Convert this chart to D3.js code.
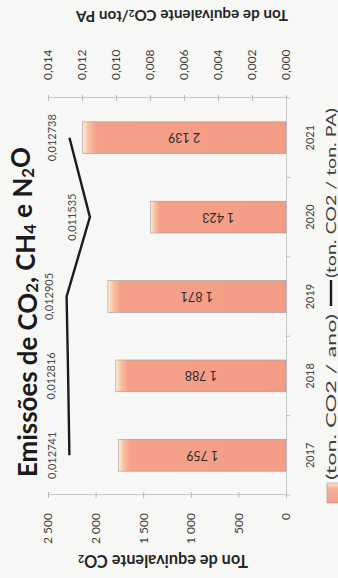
<html>
<head>
<meta charset="utf-8">
<script src="https://d3js.org/d3.v7.min.js"></script>
<style>
body {margin: 0; background: #fff;}
text {font-family: Lato, "Open Sans", sans-serif;}
</style>
</head>
<body>
<svg id="chart" width="338" height="578"></svg>
<script>
// data
var years = ["2017", "2018", "2019", "2020", "2021"];
var emissions = [1759, 1788, 1871, 1423, 2139];          // ton CO2 / ano
var intensity = [0.012741, 0.012816, 0.012905, 0.011535, 0.012738]; // ton CO2 / ton PA
var leftTicks = [0, 500, 1000, 1500, 2000, 2500];
var rightTicks = [0, 0.002, 0.004, 0.006, 0.008, 0.010, 0.012, 0.014];
var legendLabels = ["(ton. CO2 / ano)", "(ton. CO2 / ton. PA)"];

var pt = d3.formatLocale({decimal: ",", thousands: " ", grouping: [3], currency: ["", ""]});
var fmtInt = pt.format(",d");
var fmtAxis2 = pt.format(".3f");
var fmtLabel2 = pt.format(".6f");

// the page is photographed turned a quarter turn, so draw upright then turn it
var svg = d3.select("#chart");
svg.append("rect").attr("width", 338).attr("height", 578).attr("fill", "#f7f7f5");
var g = svg.append("g").attr("transform", "translate(0,578) rotate(-90)");

var plotL = 83, plotR = 480, plotT = 48, plotB = 286;

var x = d3.scaleBand().domain(years).range([plotL, plotR]).paddingInner(0.6).paddingOuter(0.3);
var y1 = d3.scaleLinear().domain([0, 2500]).range([plotB, plotT]);
var y2 = d3.scaleLinear().domain([0, 0.014]).range([plotB, plotT]);

var defs = svg.append("defs");
var grad = defs.append("linearGradient").attr("id", "barfill")
    .attr("x1", 0).attr("y1", 0).attr("x2", 0).attr("y2", 1);
grad.append("stop").attr("offset", "0%").attr("stop-color", "#fdf1d6");
grad.append("stop").attr("offset", "3%").attr("stop-color", "#f9c2a4");
grad.append("stop").attr("offset", "7%").attr("stop-color", "#f5a18a");
grad.append("stop").attr("offset", "100%").attr("stop-color", "#f39c85");
var gradKey = defs.append("linearGradient").attr("id", "keyfill")
    .attr("x1", 0).attr("y1", 0).attr("x2", 1).attr("y2", 0);
gradKey.append("stop").attr("offset", "0%").attr("stop-color", "#f39c85");
gradKey.append("stop").attr("offset", "75%").attr("stop-color", "#f7b59c");
gradKey.append("stop").attr("offset", "100%").attr("stop-color", "#fde6c6");

// grow a text until it spans the length seen on the scan
function fit(t, len) {
    var base = parseFloat(t.style("font-size"));
    var w = t.node().getComputedTextLength();
    t.style("font-size", (base * len / w) + "px");
}

//axes
var axL = g.append("g").attr("transform", "translate(" + plotL + ",0)")
    .call(d3.axisLeft(y1).tickValues(leftTicks).tickFormat(fmtInt).tickSize(3).tickPadding(15));
var axR = g.append("g").attr("transform", "translate(" + plotR + ",0)")
    .call(d3.axisRight(y2).tickValues(rightTicks).tickFormat(fmtAxis2).tickSize(3).tickPadding(15));
[axL, axR].forEach(function(a) {
    a.select(".domain").attr("stroke", "#c8c8cc");
    a.selectAll(".tick line").attr("x1", -3).attr("x2", 3).attr("stroke", "#b8b8bc");
    a.selectAll(".tick text").attr("fill", "#404040").style("font-size", "12px");
});

var axB = g.append("g").attr("transform", "translate(0," + plotB + ")")
    .call(d3.axisBottom(x).tickSize(0).tickPadding(20));
axB.select(".domain").attr("stroke", "#c8c8cc");
axB.selectAll(".tick text").attr("fill", "#404040").style("font-size", "11px");
// category ticks sit between the bars
var step = x.step();
var firstEdge = x(years[0]) - x.paddingInner() * step / 2;
axB.selectAll(".bound").data(years.concat(["end"])).enter().append("line")
    .attr("x1", function(d, i) { return firstEdge + i * step; })
    .attr("x2", function(d, i) { return firstEdge + i * step; })
    .attr("y1", 0).attr("y2", 4).attr("stroke", "#b8b8bc");

//bars
g.selectAll(".bar").data(emissions).enter().append("rect")
    .attr("x", function(d, i) { return x(years[i]); })
    .attr("y", function(d) { return y1(d); })
    .attr("width", x.bandwidth())
    .attr("height", function(d) { return plotB - y1(d); })
    .attr("fill", "url(#barfill)")
    .attr("stroke", "#9a9aa6").attr("stroke-width", 0.6);

g.selectAll(".barlabel").data(emissions).enter().append("text")
    .attr("transform", function(d, i) {
        return "translate(" + (x(years[i]) + x.bandwidth() / 2) + "," + (y1(d) + plotB) / 2 + ") rotate(-90)";
    })
    .attr("text-anchor", "middle").attr("dominant-baseline", "central")
    .attr("fill", "#2b2b2b").style("font-size", "12.5px")
    .text(function(d) { return fmtInt(d); });

//line
var line = d3.line()
    .x(function(d, i) { return x(years[i]) + x.bandwidth() / 2; })
    .y(function(d) { return y2(d); });
g.append("path").datum(intensity).attr("d", line)
    .attr("fill", "none").attr("stroke", "#1c1c1c").attr("stroke-width", 2.4);

g.selectAll(".linelabel").data(intensity).enter().append("text")
    .attr("x", function(d, i) { return x(years[i]) + x.bandwidth() / 2; })
    .attr("y", function(d) { return y2(d) - 18; })
    .attr("text-anchor", "middle").attr("dominant-baseline", "central")
    .attr("fill", "#4a4a4a").style("font-size", "11px")
    .text(function(d) { return fmtLabel2(d); });

// text with subscript digits
function subText(t, parts) {
    parts.forEach(function(p, i, arr) {
        var prevSub = i > 0 && arr[i - 1][1];
        t.append("tspan").text(p[0])
            .attr("dy", p[1] ? "0.25em" : (prevSub ? "-0.25em" : 0))
            .style("font-size", p[1] ? "65%" : null);
    });
}

//title
var title = g.append("text").attr("x", 266).attr("y", 27)
    .attr("text-anchor", "middle").attr("dominant-baseline", "central")
    .attr("fill", "#1a1a1a").style("font-size", "22px").style("font-weight", "bold");
subText(title, [["Emissões de CO", 0], ["2", 1], [", CH", 0], ["4", 1], [" e N", 0], ["2", 1], ["O", 0]]);
fit(title, 330);

//axis titles
function axisTitle(cx, cy, parts, len) {
    var t = g.append("text").attr("transform", "translate(" + cx + "," + cy + ") rotate(-90)")
        .attr("text-anchor", "middle").attr("dominant-baseline", "central")
        .attr("fill", "#262626").style("font-size", "13px").style("font-weight", "bold");
    subText(t, parts);
    fit(t, len);
}
axisTitle(16, 163, [["Ton de equivalente CO", 0], ["2", 1]], 170);
axisTitle(562, 182, [["Ton de equivalente CO", 0], ["2", 1], ["/ton PA", 0]], 212);

//legend, sitting on the page edge
var leg = g.append("g");
leg.append("rect").attr("x", 75).attr("y", 327).attr("width", 20).attr("height", 16)
    .attr("fill", "url(#keyfill)").attr("stroke", "#9a9aa6").attr("stroke-width", 0.6);
leg.append("text").attr("x", 98).attr("y", 336)
    .attr("textLength", 166).attr("lengthAdjust", "spacingAndGlyphs")
    .attr("fill", "#404040").style("font-size", "12.5px").text(legendLabels[0]);
leg.append("line").attr("x1", 272).attr("x2", 298).attr("y1", 331).attr("y2", 331)
    .attr("stroke", "#1c1c1c").attr("stroke-width", 2.4);
leg.append("text").attr("x", 300).attr("y", 336)
    .attr("textLength", 170).attr("lengthAdjust", "spacingAndGlyphs")
    .attr("fill", "#404040").style("font-size", "12.5px").text(legendLabels[1]);
</script>
</body>
</html>
